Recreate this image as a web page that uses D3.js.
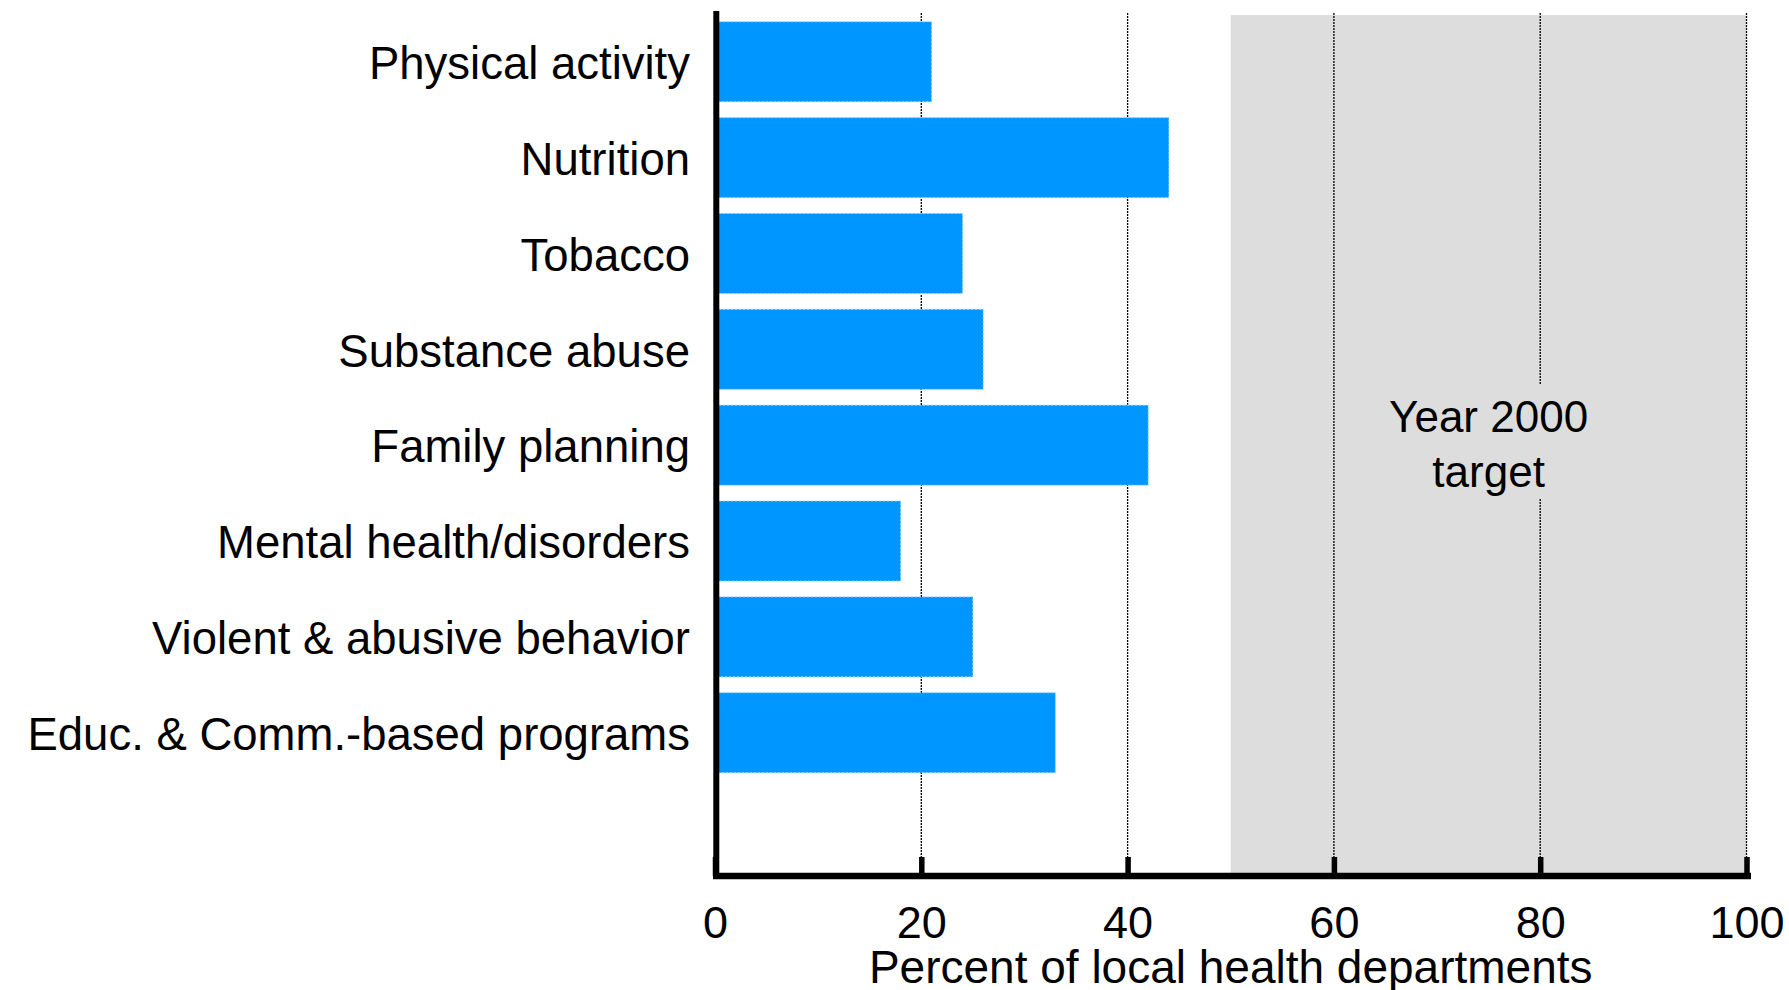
<!DOCTYPE html>
<html>
<head>
<meta charset="utf-8">
<script src="https://cdn.jsdelivr.net/npm/d3@7"></script>
<style>
  html, body { margin: 0; padding: 0; background: #fff; }
  svg { display: block; }
  text { font-family: "Liberation Sans", Arial, sans-serif; fill: #000; }
</style>
</head>
<body>
<svg id="chart" width="1789" height="990"></svg>
<script>
const categories = [
  "Physical activity",
  "Nutrition",
  "Tobacco",
  "Substance abuse",
  "Family planning",
  "Mental health/disorders",
  "Violent & abusive behavior",
  "Educ. & Comm.-based programs"
];
const values = [21, 44, 24, 26, 42, 18, 25, 33];
const tickValues = [0, 20, 40, 60, 80, 100];
const targetRange = [50, 100];
const targetLabel = ["Year 2000", "target"];
const xTitle = "Percent of local health departments";

const svg = d3.select("#chart");
const axisY = 876, plotTop = 11;

const x = d3.scaleLinear().domain([0, 100]).range([715, 1746.5]);
const y = d3.scaleBand().domain(categories)
  .range([11, 783.5]).paddingInner(0.165).paddingOuter(0.112);

// target shaded region
svg.append("rect")
  .attr("x", x(targetRange[0])).attr("y", 15)
  .attr("width", x(targetRange[1]) - x(targetRange[0]))
  .attr("height", axisY - 15)
  .attr("fill", "#dddddd");

// dotted gridlines
svg.append("g").selectAll("line")
  .data(tickValues.filter(d => d > 0))
  .join("line")
  .attr("x1", d => x(d)).attr("x2", d => x(d))
  .attr("y1", 13).attr("y2", axisY)
  .attr("stroke", "#000").attr("stroke-width", 1.3)
  .attr("stroke-dasharray", "2,1");

// target label with gray background
const tx = (x(targetRange[0]) + x(targetRange[1])) / 2;
svg.append("rect")
  .attr("x", tx - 110).attr("y", 385)
  .attr("width", 220).attr("height", 113)
  .attr("fill", "#dddddd");
svg.append("text")
  .attr("x", tx).attr("text-anchor", "middle")
  .style("font-size", "44px")
  .selectAll("tspan").data(targetLabel).join("tspan")
  .attr("x", tx).attr("y", (d, i) => 431.5 + i * 55)
  .text(d => d);

// bars
svg.append("g").selectAll("rect")
  .data(values)
  .join("rect")
  .attr("x", x(0))
  .attr("y", (d, i) => y(categories[i]))
  .attr("width", d => x(d) - x(0))
  .attr("height", y.bandwidth())
  .attr("fill", "#0096ff")
  .attr("stroke", "#9ed6ff").attr("stroke-width", 1)
  .attr("stroke-dasharray", "2,2");

// bottom axis (ticks upward + labels)
const xAxis = d3.axisBottom(x).tickValues(tickValues)
  .tickSizeInner(-19).tickSizeOuter(0).tickPadding(30)
  .tickFormat(d3.format("d"));
const gx = svg.append("g").attr("transform", `translate(0,${axisY})`).call(xAxis);
gx.select(".domain").remove();
gx.selectAll(".tick line").attr("stroke", "#000").attr("stroke-width", 5.5);
gx.selectAll(".tick text")
  .style("font-size", "45px")
  .style("font-family", '"Liberation Sans", Arial, sans-serif')
  .attr("fill", "#000");

// axis lines
svg.append("line")
  .attr("x1", 713).attr("x2", 1751).attr("y1", axisY).attr("y2", axisY)
  .attr("stroke", "#000").attr("stroke-width", 6.5);
svg.append("line")
  .attr("x1", 716.3).attr("x2", 716.3).attr("y1", plotTop).attr("y2", axisY + 3)
  .attr("stroke", "#000").attr("stroke-width", 6);

// left category labels
const yAxis = d3.axisLeft(y).tickSize(0).tickPadding(26);
const gy = svg.append("g").attr("transform", "translate(716,0)").call(yAxis);
gy.select(".domain").remove();
gy.selectAll(".tick text")
  .style("font-size", "45.5px")
  .style("font-family", '"Liberation Sans", Arial, sans-serif')
  .attr("fill", "#000")
  .attr("dy", "0.38em");

// x axis title
svg.append("text")
  .attr("x", (x(0) + x(100)) / 2).attr("y", 983)
  .attr("text-anchor", "middle")
  .style("font-size", "46px")
  .text(xTitle);
</script>
</body>
</html>
